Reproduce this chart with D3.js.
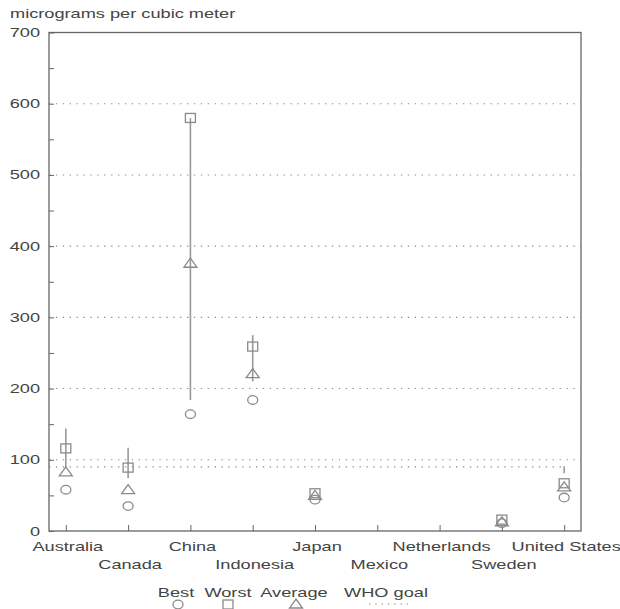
<!DOCTYPE html>
<html>
<head>
<meta charset="utf-8">
<script src="https://cdn.jsdelivr.net/npm/d3@7/dist/d3.min.js"></script>
<style>
  html, body { margin: 0; padding: 0; background: #ffffff; }
  svg { display: block; }
  text { font-family: "Liberation Sans", Arial, sans-serif; font-size: 13px; fill: #444; }
</style>
</head>
<body>
<div id="chart"></div>
<script>
// Particulate levels by country (micrograms per cubic meter)
const countries = ["Australia", "Canada", "China", "Indonesia", "Japan", "Mexico", "Netherlands", "Sweden", "United States"];
const best      = [58, 35, 164, 184, 44, null, null, 11, 47];
const worst     = [116, 89, 580, 259, 53, null, null, 16, 67];
const average   = [83, 58, 376, 221, 50, null, null, 13, 62];
const rangeLow  = [88, 74, 184, 210, null, null, null, null, 81];
const rangeHigh = [144, 117, 580, 275, null, null, null, null, 91];
const whoGoal = 90;
const yTicks = [0, 100, 200, 300, 400, 500, 600, 700];
const yMinorTicks = [50, 150, 250, 350, 450, 550, 650];
const gridValues = [100, 200, 300, 400, 500, 600];
const legendItems = ["Best", "Worst", "Average", "WHO goal"];

const W = 620, H = 609;
const plotLeft = 49, plotRight = 581, plotTop = 32.5, plotBottom = 531;
const SX = 1.4; // horizontal text stretch

const svg = d3.select("#chart").append("svg").attr("width", W).attr("height", H);

const x = d3.scalePoint().domain(countries).range([plotLeft, plotRight]).padding(0.27);
const y = d3.scaleLinear().domain([0, 700]).range([plotBottom, plotTop]);

const ink = "#666";
const markColor = "#8a8a8a";

function label(g, tx, ty, str, anchor) {
  return g.append("text")
    .attr("transform", `translate(${tx},${ty}) scale(${SX},1)`)
    .attr("text-anchor", anchor || "middle")
    .text(str);
}

// title
label(svg, 10, 18, "micrograms per cubic meter", "start");

// dotted gridlines
svg.append("g").selectAll("line").data(gridValues).join("line")
  .attr("x1", plotLeft).attr("x2", plotRight)
  .attr("y1", d => y(d)).attr("y2", d => y(d))
  .attr("stroke", "#888").attr("stroke-width", 1.1)
  .attr("stroke-dasharray", "1.3,5.6");

// WHO goal line
svg.append("line")
  .attr("x1", plotLeft).attr("x2", x("United States") - 3)
  .attr("y1", y(whoGoal)).attr("y2", y(whoGoal))
  .attr("stroke", "#888").attr("stroke-width", 1.2)
  .attr("stroke-dasharray", "1.3,5.6");

// frame
svg.append("rect")
  .attr("x", plotLeft).attr("y", plotTop)
  .attr("width", plotRight - plotLeft).attr("height", plotBottom - plotTop)
  .attr("fill", "none").attr("stroke", ink).attr("stroke-width", 1.3);

// y axis ticks (inward) and labels
const yAxis = d3.axisRight(y).tickValues(yTicks).tickSize(5).tickFormat("");
const ya = svg.append("g").attr("transform", `translate(${plotLeft},0)`).call(yAxis);
ya.select(".domain").remove();
ya.selectAll("line").attr("stroke", ink);
const yMinor = d3.axisRight(y).tickValues(yMinorTicks).tickSize(5).tickFormat("");
const ym = svg.append("g").attr("transform", `translate(${plotLeft},0)`).call(yMinor);
ym.select(".domain").remove();
ym.selectAll("line").attr("stroke", ink);
yTicks.forEach(v => label(svg, 40, y(v) + 4.5, String(v), "end"));

// x axis ticks (inward) and staggered labels
const xAxis = d3.axisTop(x).tickSize(6).tickFormat("");
const xa = svg.append("g").attr("transform", `translate(0,${plotBottom})`).call(xAxis);
xa.select(".domain").remove();
xa.selectAll("line").attr("stroke", ink);
countries.forEach((c, i) => label(svg, x(c) + 2, i % 2 === 0 ? 551 : 569, c));

// range lines
const plot = svg.append("g");
countries.forEach((c, i) => {
  if (rangeLow[i] == null) return;
  plot.append("line")
    .attr("x1", x(c)).attr("x2", x(c))
    .attr("y1", y(rangeLow[i])).attr("y2", y(rangeHigh[i]))
    .attr("stroke", "#999").attr("stroke-width", 1.6);
});

// marker shapes
function circleMark(g, cx, cy) {
  g.append("ellipse").attr("cx", cx).attr("cy", cy).attr("rx", 5).attr("ry", 4.3)
    .attr("fill", "none").attr("stroke", markColor).attr("stroke-width", 1.3);
}
function squareMark(g, cx, cy) {
  g.append("rect").attr("x", cx - 5).attr("y", cy - 4.5).attr("width", 10).attr("height", 9)
    .attr("fill", "none").attr("stroke", markColor).attr("stroke-width", 1.3);
}
function triangleMark(g, cx, cy) {
  g.append("path").attr("d", `M${cx},${cy - 5}L${cx + 6.5},${cy + 4}L${cx - 6.5},${cy + 4}Z`)
    .attr("fill", "none").attr("stroke", markColor).attr("stroke-width", 1.3);
}

countries.forEach((c, i) => {
  if (best[i] != null) circleMark(plot, x(c), y(best[i]));
  if (worst[i] != null) squareMark(plot, x(c), y(worst[i]));
  if (average[i] != null) triangleMark(plot, x(c), y(average[i]));
});

// legend
const lg = svg.append("g");
const legendX = [176, 228, 294, 386];
legendItems.forEach((t, i) => label(lg, legendX[i], 597, t));
circleMark(lg, 178, 604.5);
squareMark(lg, 228, 604.5);
triangleMark(lg, 296, 604);
lg.append("line").attr("x1", 369).attr("x2", 408).attr("y1", 604).attr("y2", 604)
  .attr("stroke", "#888").attr("stroke-width", 1.2).attr("stroke-dasharray", "1.3,5");
</script>
</body>
</html>
